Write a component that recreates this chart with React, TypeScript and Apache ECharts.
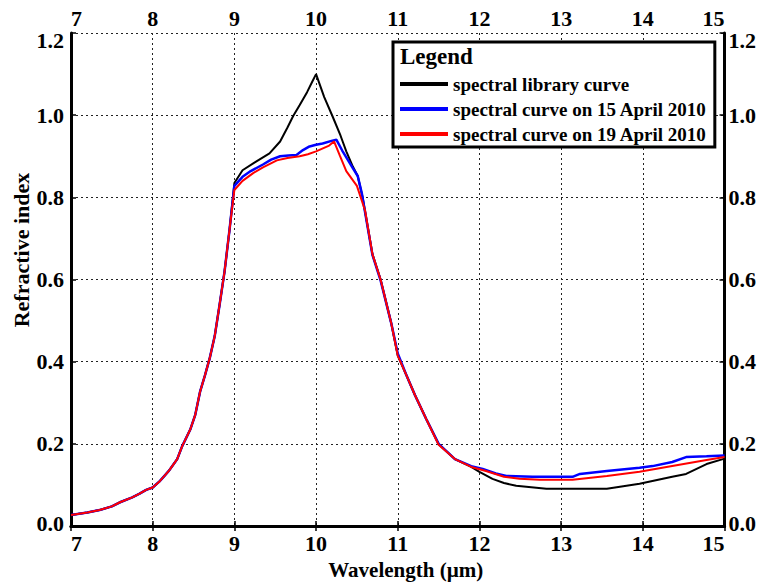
import React, { useEffect, useRef } from "react";
import * as echarts from "echarts";

const xTicks = [7, 8, 9, 10, 11, 12, 13, 14, 15];
const yTicks = [0.0, 0.2, 0.4, 0.6, 0.8, 1.0, 1.2];

const seriesNames = [
  "spectral library curve",
  "spectral curve on 15 April 2010",
  "spectral curve on 19 April 2010",
];

const libraryCurve: [number, number][] = [
  [7.0, 0.027], [7.2, 0.033], [7.35, 0.039], [7.5, 0.048], [7.6, 0.058], [7.75, 0.07],
  [7.84, 0.079], [7.92, 0.088], [8.0, 0.094], [8.09, 0.11], [8.2, 0.135], [8.3, 0.163],
  [8.36, 0.194], [8.46, 0.235], [8.52, 0.27], [8.58, 0.327], [8.64, 0.367], [8.7, 0.41],
  [8.76, 0.463], [8.82, 0.54], [8.88, 0.62], [8.94, 0.72], [9.0, 0.835], [9.1, 0.866],
  [9.25, 0.885], [9.43, 0.907], [9.56, 0.936], [9.65, 0.97], [9.72, 0.998], [9.8, 1.025],
  [9.89, 1.056], [9.95, 1.08], [10.0, 1.1], [10.1, 1.044], [10.2, 0.998], [10.3, 0.95],
  [10.37, 0.912], [10.45, 0.875], [10.51, 0.852], [10.57, 0.8], [10.69, 0.662], [10.79, 0.6],
  [10.92, 0.494], [11.0, 0.415], [11.1, 0.37], [11.21, 0.319], [11.35, 0.26], [11.5, 0.2],
  [11.7, 0.163], [11.9, 0.144], [12.0, 0.132], [12.16, 0.115], [12.3, 0.105], [12.45, 0.098],
  [12.82, 0.091], [13.2, 0.091], [13.56, 0.091], [13.96, 0.103], [14.36, 0.12], [14.53, 0.127],
  [14.78, 0.151], [14.98, 0.163], [15.0, 0.165],
];

const curveApr15: [number, number][] = [
  [7.0, 0.027], [7.2, 0.033], [7.35, 0.039], [7.5, 0.048], [7.6, 0.058], [7.75, 0.07],
  [7.84, 0.079], [7.92, 0.088], [8.0, 0.094], [8.09, 0.11], [8.2, 0.135], [8.3, 0.163],
  [8.36, 0.194], [8.46, 0.235], [8.52, 0.27], [8.58, 0.327], [8.64, 0.367], [8.7, 0.41],
  [8.76, 0.463], [8.82, 0.54], [8.88, 0.62], [8.94, 0.72], [9.0, 0.828], [9.1, 0.85],
  [9.2, 0.864], [9.35, 0.88], [9.45, 0.892], [9.56, 0.9], [9.66, 0.902], [9.76, 0.903],
  [9.84, 0.915], [9.92, 0.924], [10.0, 0.928], [10.08, 0.931], [10.2, 0.938], [10.25, 0.94],
  [10.32, 0.914], [10.45, 0.871], [10.51, 0.852], [10.56, 0.81], [10.69, 0.66], [10.79, 0.598],
  [10.92, 0.494], [11.0, 0.42], [11.1, 0.37], [11.21, 0.319], [11.35, 0.26], [11.5, 0.2],
  [11.7, 0.163], [11.9, 0.146], [12.04, 0.139], [12.2, 0.128], [12.33, 0.122], [12.65, 0.12],
  [13.14, 0.12], [13.23, 0.127], [13.56, 0.134], [13.96, 0.142], [14.12, 0.146], [14.36, 0.156],
  [14.53, 0.168], [14.78, 0.17], [15.0, 0.172],
];

const curveApr19: [number, number][] = [
  [7.0, 0.027], [7.2, 0.033], [7.35, 0.039], [7.5, 0.048], [7.6, 0.058], [7.75, 0.07],
  [7.84, 0.079], [7.92, 0.088], [8.0, 0.094], [8.09, 0.11], [8.2, 0.135], [8.3, 0.163],
  [8.36, 0.194], [8.46, 0.235], [8.52, 0.27], [8.58, 0.327], [8.64, 0.367], [8.7, 0.41],
  [8.76, 0.463], [8.82, 0.54], [8.88, 0.62], [8.94, 0.72], [9.0, 0.818], [9.1, 0.84],
  [9.23, 0.859], [9.35, 0.873], [9.52, 0.89], [9.65, 0.896], [9.8, 0.9], [9.9, 0.905],
  [10.0, 0.912], [10.16, 0.926], [10.22, 0.936], [10.29, 0.902], [10.37, 0.864], [10.5, 0.828],
  [10.6, 0.768], [10.69, 0.662], [10.79, 0.6], [10.92, 0.494], [11.0, 0.415], [11.1, 0.37],
  [11.21, 0.319], [11.35, 0.26], [11.5, 0.198], [11.7, 0.163], [11.9, 0.144], [12.08, 0.134],
  [12.3, 0.12], [12.49, 0.115], [12.74, 0.113], [13.14, 0.113], [13.56, 0.122], [13.96, 0.132],
  [14.36, 0.146], [14.78, 0.161], [15.0, 0.168],
];

const FONT = "'Liberation Serif', 'Times New Roman', serif";
const W = 759;
const H = 585;

export default function App() {
  const ref = useRef<HTMLDivElement>(null);
  useEffect(() => {
    if (!ref.current) return;
    document.body.style.margin = "0";
    const chart = echarts.init(ref.current, undefined, { renderer: "svg", width: W, height: H });
    const axisLine = { show: true, lineStyle: { color: "#000", width: 3 } };
    const axisTick = { show: true, inside: true, length: 5, lineStyle: { color: "#000", width: 1.5 } };
    const splitLine = { show: true, lineStyle: { color: "#222", width: 1, type: [2, 3] as any } };
    const label = { color: "#000", fontFamily: FONT, fontWeight: "bold" as const, fontSize: 22 };
    const xLabel = { ...label, alignMinLabel: "left", alignMaxLabel: "right" };
    const yMin = yTicks[0];
    const yMax = yTicks[yTicks.length - 1];
    const yLabel = {
      ...label,
      formatter: (v: number) => {
        const t = v.toFixed(1);
        if (Math.abs(v - yMin) < 1e-9) return `{lo|${t}}`;
        if (Math.abs(v - yMax) < 1e-9) return `{hi|${t}}`;
        return t;
      },
      rich: {
        lo: { ...label, padding: [0, 0, 6, 0] },
        hi: { ...label, padding: [14, 0, 0, 0] },
      },
    };
    const xBase = { type: "value" as const, min: xTicks[0], max: xTicks[xTicks.length - 1], interval: 1 };
    const yBase = { type: "value" as const, min: yMin, max: yMax, interval: 0.2 };
    chart.setOption({
      animation: false,
      backgroundColor: "#fff",
      grid: { left: 71, right: 34, top: 33, bottom: 52, containLabel: false },
      xAxis: [
        {
          ...xBase,
          position: "bottom",
          name: "Wavelength (µm)",
          nameLocation: "middle",
          nameGap: 28,
          nameTextStyle: { color: "#000", fontFamily: FONT, fontWeight: "bold", fontSize: 21, padding: [0, 0, 0, 16] },
          axisLine, axisTick, splitLine,
          axisLabel: { ...xLabel, margin: 6 },
        },
        {
          ...xBase,
          position: "top",
          axisLine, axisTick,
          splitLine: { show: false },
          axisLabel: { ...xLabel, margin: 4 },
        },
      ],
      yAxis: [
        {
          ...yBase,
          position: "left",
          axisLine, axisTick, splitLine,
          axisLabel: { ...yLabel, margin: 7 },
        },
        {
          ...yBase,
          position: "right",
          axisLine, axisTick,
          splitLine: { show: false },
          axisLabel: { ...yLabel, margin: 4 },
        },
      ],
      legend: {
        orient: "vertical",
        left: 393,
        top: 42,
        data: seriesNames,
        icon: "rect",
        itemWidth: 48,
        itemHeight: 4,
        itemGap: 5,
        padding: [32, 8, 3, 7],
        backgroundColor: "#fff",
        borderColor: "#000",
        borderWidth: 3,
        borderRadius: 0,
        textStyle: { color: "#000", fontFamily: FONT, fontWeight: "bold", fontSize: 19, lineHeight: 20 },
        z: 10,
      },
      graphic: [
        {
          type: "text",
          left: 400,
          top: 45,
          z: 100,
          style: { text: "Legend", fill: "#000", font: `bold 23px ${FONT}` },
        },
        {
          type: "text",
          x: 21,
          y: 250,
          rotation: Math.PI / 2,
          style: {
            text: "Refractive index",
            fill: "#000",
            font: `bold 22px ${FONT}`,
            align: "center",
            verticalAlign: "middle",
          },
        },
      ],
      series: [
        {
          name: seriesNames[0], type: "line", data: libraryCurve, showSymbol: false,
          lineStyle: { color: "#000", width: 2 }, itemStyle: { color: "#000" },
        },
        {
          name: seriesNames[1], type: "line", data: curveApr15, showSymbol: false,
          lineStyle: { color: "#0000ff", width: 2.5 }, itemStyle: { color: "#0000ff" },
        },
        {
          name: seriesNames[2], type: "line", data: curveApr19, showSymbol: false,
          lineStyle: { color: "#ff0000", width: 2 }, itemStyle: { color: "#ff0000" },
        },
      ],
    });
    return () => chart.dispose();
  }, []);
  return <div ref={ref} style={{ width: W, height: H }} />;
}
